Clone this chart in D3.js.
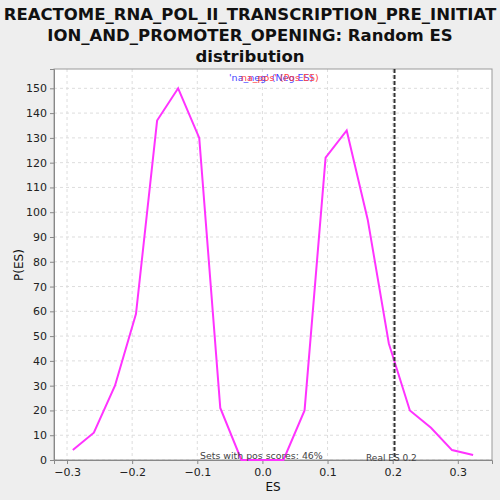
<!DOCTYPE html>
<html>
<head>
<meta charset="utf-8">
<script src="https://cdn.jsdelivr.net/npm/d3@7"></script>
<style>
  body { margin: 0; background: #eeeeee; }
  svg { display: block; font-family: "DejaVu Sans", sans-serif; }
</style>
</head>
<body>
<svg id="chart" width="500" height="500"></svg>
<script>
// Random ES distribution
const esValues = [-0.2911, -0.2588, -0.2264, -0.1941, -0.1617, -0.1294, -0.0970, -0.0647, -0.0323, 0.0000,
                  0.0323, 0.0647, 0.0970, 0.1294, 0.1617, 0.1941, 0.2264, 0.2588, 0.2911, 0.3235];
const pValues = [4, 11, 30, 59, 137, 150, 130, 21, 0, 0, 0, 20, 122, 133, 97, 47, 20, 13, 4, 2];
const xTicks = [-0.3, -0.2, -0.1, 0.0, 0.1, 0.2, 0.3];
const yTicks = d3.range(0, 151, 10);
const realES = 0.2028;
const titleLines = ['REACTOME_RNA_POL_II_TRANSCRIPTION_PRE_INITIAT', 'ION_AND_PROMOTER_OPENING: Random ES', 'distribution'];

const svg = d3.select('#chart');
const m = { left: 54, top: 69, right: 492, bottom: 460 };

const x = d3.scaleLinear().domain([-0.32, 0.3525]).range([m.left, m.right]);
const y = d3.scaleLinear().domain([0, 157.8]).range([m.bottom, m.top]);

// Title
svg.append('g').selectAll('text')
  .data(titleLines)
  .join('text')
  .attr('x', 250)
  .attr('y', (d, i) => 20 + i * 21)
  .attr('text-anchor', 'middle')
  .style('font-size', '16.5px')
  .style('font-weight', 'bold')
  .attr('fill', '#111')
  .text(d => d);

// Plot background
svg.append('rect')
  .attr('x', m.left).attr('y', m.top)
  .attr('width', m.right - m.left).attr('height', m.bottom - m.top)
  .attr('fill', '#fff');

// Grid
const grid = svg.append('g').attr('stroke', '#dddddd').attr('stroke-dasharray', '3,3');
grid.selectAll('.gx').data(xTicks).join('line')
  .attr('x1', d => x(d)).attr('x2', d => x(d))
  .attr('y1', m.top).attr('y2', m.bottom);
grid.selectAll('.gy').data(yTicks).join('line')
  .attr('x1', m.left).attr('x2', m.right)
  .attr('y1', d => y(d)).attr('y2', d => y(d));

// Border
svg.append('rect')
  .attr('x', m.left).attr('y', m.top)
  .attr('width', m.right - m.left).attr('height', m.bottom - m.top)
  .attr('fill', 'none').attr('stroke', '#999');

// Axes
const xAxis = svg.append('g')
  .attr('transform', `translate(0,${m.bottom})`)
  .call(d3.axisBottom(x).tickValues(xTicks).tickFormat(d3.format('.1f')).tickSize(4).tickPadding(4));
const yAxis = svg.append('g')
  .attr('transform', `translate(${m.left},0)`)
  .call(d3.axisLeft(y).tickValues(yTicks).tickSize(4).tickPadding(3));
[xAxis, yAxis].forEach(a => {
  a.select('.domain').attr('stroke', '#888');
  a.selectAll('.tick line').attr('stroke', '#888');
  a.selectAll('.tick text').attr('fill', '#222').style('font-size', '11px').style('font-family', '"DejaVu Sans", sans-serif');
});

svg.append('text')
  .attr('x', 273).attr('y', 491)
  .attr('text-anchor', 'middle')
  .style('font-size', '12px').attr('fill', '#111')
  .text('ES');
svg.append('text')
  .attr('transform', 'translate(23,265) rotate(-90)')
  .attr('text-anchor', 'middle')
  .style('font-size', '12px').attr('fill', '#111')
  .text('P(ES)');

// Distribution line
const line = d3.line().x((d, i) => x(esValues[i])).y(d => y(d));
svg.append('path')
  .datum(pValues)
  .attr('d', line)
  .attr('fill', 'none')
  .attr('stroke', '#ff33ff')
  .attr('stroke-width', 2);

// Real ES marker
svg.append('line')
  .attr('x1', x(realES)).attr('x2', x(realES))
  .attr('y1', m.top).attr('y2', m.bottom)
  .attr('stroke', '#333')
  .attr('stroke-width', 2)
  .attr('stroke-dasharray', '4,2');

// Annotations
svg.append('text')
  .attr('x', 200).attr('y', 459)
  .style('font-size', '9.4px').attr('fill', '#444')
  .text('Sets with pos scores: 46%');
svg.append('text')
  .attr('x', 366).attr('y', 461)
  .style('font-size', '9px').attr('fill', '#444')
  .text('Real ES 0.2');

// Legend (entries overlap as in the original)
svg.append('text')
  .attr('x', 229).attr('y', 81)
  .style('font-size', '9.5px').attr('fill', '#4444ff')
  .text("'na_neg' (Neg ES)");
svg.append('text')
  .attr('x', 241).attr('y', 81)
  .style('font-size', '9.5px').attr('fill', '#ff4444')
  .text("na_pos' (Pos ES)");
</script>
</body>
</html>
